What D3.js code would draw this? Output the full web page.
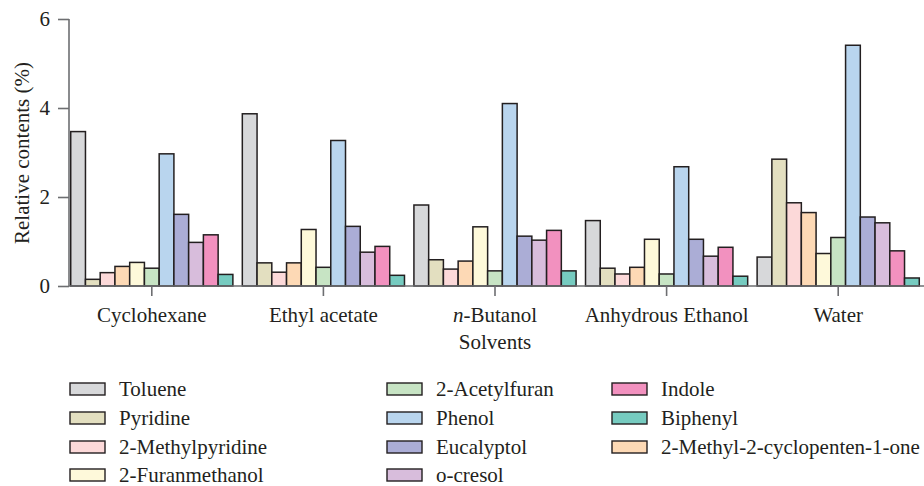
<!DOCTYPE html>
<html>
<head>
<meta charset="utf-8">
<script src="https://cdn.jsdelivr.net/npm/d3@7"></script>
<style>
  html, body { margin: 0; padding: 0; background: #ffffff; }
  svg { display: block; }
</style>
</head>
<body>
<svg id="chart" width="924" height="486"></svg>
<script>
// ---- data ----
const solvents = ["Cyclohexane", "Ethyl acetate", "n-Butanol", "Anhydrous Ethanol", "Water"];
const compounds = ["Toluene", "Pyridine", "2-Methylpyridine", "2-Methyl-2-cyclopenten-1-one",
  "2-Furanmethanol", "2-Acetylfuran", "Phenol", "Eucalyptol", "o-cresol", "Indole", "Biphenyl"];
const toluene      = [3.47, 3.87, 1.82, 1.47, 0.65];
const pyridine     = [0.15, 0.52, 0.59, 0.40, 2.85];
const methylpyr    = [0.30, 0.31, 0.38, 0.27, 1.87];
const methylcyclo  = [0.44, 0.52, 0.56, 0.42, 1.65];
const furanmeth    = [0.53, 1.27, 1.33, 1.05, 0.73];
const acetylfuran  = [0.40, 0.42, 0.34, 0.27, 1.09];
const phenol       = [2.97, 3.27, 4.10, 2.68, 5.41];
const eucalyptol   = [1.61, 1.34, 1.12, 1.05, 1.55];
const ocresol      = [0.98, 0.76, 1.03, 0.67, 1.42];
const indole       = [1.15, 0.89, 1.25, 0.87, 0.79];
const biphenyl     = [0.26, 0.24, 0.34, 0.22, 0.18];
const seriesValues = [toluene, pyridine, methylpyr, methylcyclo, furanmeth, acetylfuran,
  phenol, eucalyptol, ocresol, indole, biphenyl];
const colors = ["#d7d8da", "#e3dfc0", "#fcd9d9", "#fdd9b5", "#fef9da", "#c7e4c4",
  "#b9d5ee", "#abadd6", "#d8bddc", "#f291bf", "#76cbc0"];
const yTicks = [0, 2, 4, 6];
const legendOrder = ["Toluene", "Pyridine", "2-Methylpyridine", "2-Furanmethanol",
  "2-Acetylfuran", "Phenol", "Eucalyptol", "o-cresol",
  "Indole", "Biphenyl", "2-Methyl-2-cyclopenten-1-one"];

// ---- layout ----
const FONT = "'Liberation Serif', 'Times New Roman', serif";
const FS = "21px";
const TXT = "#231f20";
const svg = d3.select("#chart");
const axisX = 69, baseY = 286, topY = 19;
const axisColor = "#6d6e71";

const x0 = d3.scaleBand().domain(solvents).range([66, 924]).paddingInner(0.055).paddingOuter(0.0275);
const x1 = d3.scaleBand().domain(compounds).range([0, x0.bandwidth()]).padding(0);
const y = d3.scaleLinear().domain([0, 6]).range([baseY, topY]);
const color = d3.scaleOrdinal().domain(compounds).range(colors);

function styleText(sel) {
  return sel.style("font-family", FONT).style("font-size", FS).style("fill", TXT);
}

// bars
const groups = svg.append("g").selectAll("g")
  .data(solvents).join("g")
  .attr("transform", d => `translate(${x0(d)},0)`);
groups.selectAll("rect")
  .data((s, si) => compounds.map((c, ci) => ({ c, v: seriesValues[ci][si] })))
  .join("rect")
  .attr("x", d => x1(d.c))
  .attr("y", d => y(d.v))
  .attr("width", x1.bandwidth())
  .attr("height", d => baseY - y(d.v))
  .attr("fill", d => color(d.c))
  .attr("stroke", "#231f20")
  .attr("stroke-width", 1.5);

// y axis
const yAxis = svg.append("g").attr("transform", `translate(${axisX},0)`)
  .call(d3.axisLeft(y).tickValues(yTicks).tickFormat(d3.format("d")).tickSize(11).tickPadding(8));
yAxis.attr("font-family", null).attr("font-size", null);
yAxis.select(".domain").attr("stroke", axisColor).attr("stroke-width", 1.6)
  .attr("d", `M0,${topY}V${baseY}`);
yAxis.selectAll(".tick line").attr("stroke", axisColor).attr("stroke-width", 1.6);
styleText(yAxis.selectAll(".tick text"));

// x axis
const xAxis = svg.append("g").attr("transform", `translate(0,${baseY})`)
  .call(d3.axisBottom(x0).tickSize(10).tickPadding(9).tickFormat(""));
xAxis.attr("font-family", null).attr("font-size", null);
xAxis.select(".domain").attr("stroke", axisColor).attr("stroke-width", 1.6)
  .attr("d", `M${axisX},0H924`);
xAxis.selectAll(".tick line").attr("stroke", axisColor).attr("stroke-width", 1.6);
xAxis.selectAll(".tick text").remove();
xAxis.selectAll(".tick").each(function(d) {
  const t = styleText(d3.select(this).append("text"))
    .attr("y", 36).attr("text-anchor", "middle");
  if (d === "n-Butanol") {
    t.append("tspan").style("font-style", "italic").text("n");
    t.append("tspan").text("-Butanol");
  } else t.text(d);
});

// axis titles
styleText(svg.append("text")).attr("x", 495).attr("y", 349).attr("text-anchor", "middle")
  .text("Solvents");
styleText(svg.append("text")).attr("transform", `translate(29,153) rotate(-90)`)
  .attr("text-anchor", "middle").text("Relative contents (%)");

// legend
const colX = [70, 387, 612];
const rowBase = [396, 425, 454, 482];
const leg = svg.append("g");
legendOrder.forEach((name, i) => {
  const col = Math.floor(i / 4), row = i % 4;
  const g = leg.append("g").attr("transform", `translate(${colX[col]},${rowBase[row]})`);
  g.append("rect").attr("x", 0).attr("y", -13).attr("width", 35).attr("height", 12)
    .attr("fill", color(name)).attr("stroke", "#231f20").attr("stroke-width", 1.4);
  styleText(g.append("text")).attr("x", 49).attr("y", 0).text(name);
});
</script>
</body>
</html>
